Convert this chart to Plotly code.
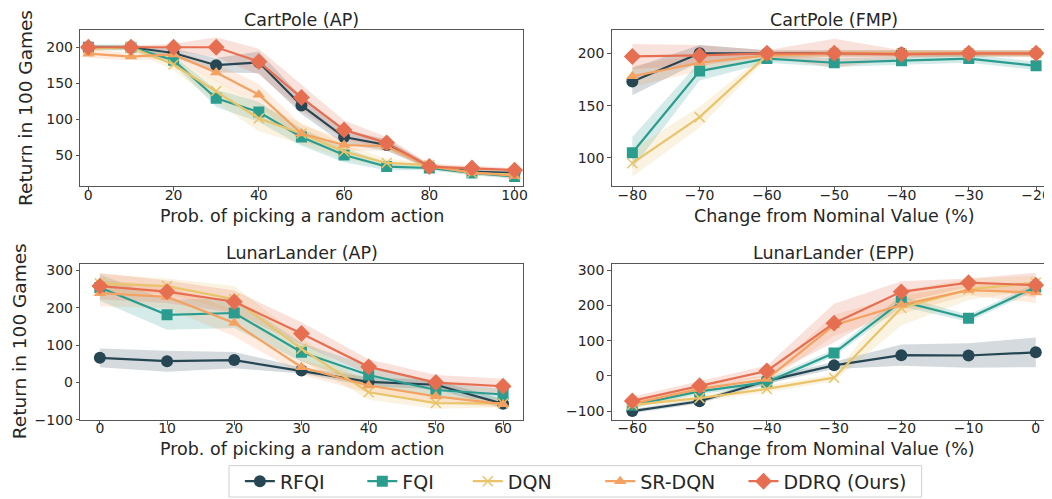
import plotly.graph_objects as go

W, H = 1052, 499

methods = ["RFQI", "FQI", "DQN", "SR-DQN", "DDRQ (Ours)"]
colors = ["#264653", "#2a9d8f", "#e9c46a", "#f4a261", "#e76f51"]
band_colors = ["rgba(38,70,83,0.2)", "rgba(42,157,143,0.2)", "rgba(233,196,106,0.2)",
               "rgba(244,162,97,0.2)", "rgba(231,111,81,0.2)"]
symbols = ["circle", "square", "x-thin", "triangle-up", "diamond"]
msizes = [12, 11, 10, 11, 13]

# CartPole (AP)
cp_ap_x = [0, 10, 20, 30, 40, 50, 60, 70, 80, 90, 100]
cp_ap_mean = [
    [200, 200, 192, 175, 179, 119, 75, 64, 34, 27, 25],
    [200, 200, 182, 129, 110, 75, 50, 34, 32, 25, 20],
    [198, 200, 176, 139, 101, 80, 55, 39, 36, 25, 23],
    [191, 187, 190, 165, 134, 80, 64, 62, 34, 26, 21],
    [200, 200, 200, 200, 180, 130, 85, 67, 34, 32, 29],
]
cp_ap_std = [
    [3, 3, 6, 10, 15, 12, 10, 8, 3, 3, 3],
    [4, 4, 6, 12, 14, 12, 10, 5, 3, 3, 3],
    [4, 4, 8, 15, 18, 15, 10, 6, 4, 3, 3],
    [6, 5, 6, 12, 15, 12, 8, 6, 3, 3, 3],
    [2, 2, 5, 14, 18, 18, 13, 8, 4, 3, 3],
]

# CartPole (FMP)
cp_fmp_x = [-80, -70, -60, -50, -40, -30, -20]
cp_fmp_mean = [
    [173, 200, 200, 200, 200, 200, 200],
    [105, 183, 195, 191, 193, 195, 188],
    [95, 139, 198, 200, 200, 200, 200],
    [178, 191, 198, 200, 200, 200, 200],
    [197, 198, 200, 200, 199, 200, 200],
]
cp_fmp_std = [
    [13, 8, 3, 3, 3, 3, 3],
    [15, 9, 4, 4, 4, 4, 4],
    [13, 10, 3, 3, 3, 3, 3],
    [10, 8, 4, 3, 3, 3, 3],
    [12, 10, 3, 14, 4, 3, 3],
]

# LunarLander (AP)
ll_ap_x = [0, 10, 20, 30, 40, 50, 60]
ll_ap_mean = [
    [66, 57, 60, 32, 2, -6, -57],
    [254, 181, 186, 81, 20, -20, -32],
    [265, 258, 223, 90, -26, -55, -56],
    [239, 229, 159, 41, -8, -37, -58],
    [258, 243, 216, 131, 42, 0, -10],
]
ll_ap_std = [
    [25, 28, 22, 8, 12, 12, 12],
    [35, 40, 40, 25, 25, 20, 15],
    [25, 20, 35, 30, 20, 15, 10],
    [35, 30, 35, 20, 20, 15, 10],
    [35, 30, 30, 30, 20, 20, 20],
]

# LunarLander (EPP)
ll_epp_x = [-60, -50, -40, -30, -20, -10, 0]
ll_epp_mean = [
    [-100, -72, -14, 30, 59, 58, 67],
    [-83, -44, -18, 65, 212, 164, 253],
    [-82, -63, -37, -5, 193, 246, 265],
    [-79, -37, -9, 144, 202, 244, 237],
    [-71, -28, 14, 150, 239, 265, 258],
]
ll_epp_std = [
    [6, 6, 8, 10, 30, 35, 42],
    [8, 8, 10, 10, 15, 10, 10],
    [8, 8, 10, 10, 50, 30, 20],
    [10, 10, 12, 30, 25, 15, 30],
    [12, 12, 15, 55, 30, 12, 35],
]

titles = ["CartPole (AP)", "CartPole (FMP)", "LunarLander (AP)", "LunarLander (EPP)"]
xlabels = ["Prob. of picking a random action", "Change from Nominal Value (%)",
           "Prob. of picking a random action", "Change from Nominal Value (%)"]
xtickvals = [[0, 20, 40, 60, 80, 100], [-80, -70, -60, -50, -40, -30, -20],
             [0, 10, 20, 30, 40, 50, 60], [-60, -50, -40, -30, -20, -10, 0]]
ytickvals = [[50, 100, 150, 200], [100, 150, 200], [-100, 0, 100, 200, 300], [-100, 0, 100, 200, 300]]
ylabel = "Return in 100 Games"

panels = [
    (cp_ap_x, cp_ap_mean, cp_ap_std),
    (cp_fmp_x, cp_fmp_mean, cp_fmp_std),
    (ll_ap_x, ll_ap_mean, ll_ap_std),
    (ll_epp_x, ll_epp_mean, ll_epp_std),
]

legend_ids = ["legend", "legend2", "legend3", "legend4", "legend5"]

fig = go.Figure()

for p, (xs, means, stds) in enumerate(panels):
    xa = "x" if p == 0 else f"x{p+1}"
    ya = "y" if p == 0 else f"y{p+1}"
    for i in range(len(methods)):
        up = [m + s for m, s in zip(means[i], stds[i])]
        lo = [m - s for m, s in zip(means[i], stds[i])]
        fig.add_trace(go.Scatter(x=xs, y=up, mode="lines", line=dict(width=0),
                                 hoverinfo="skip", showlegend=False, xaxis=xa, yaxis=ya))
        fig.add_trace(go.Scatter(x=xs, y=lo, mode="lines", line=dict(width=0),
                                 fill="tonexty", fillcolor=band_colors[i],
                                 hoverinfo="skip", showlegend=False, xaxis=xa, yaxis=ya))
    for i in range(len(methods)):
        mk = dict(symbol=symbols[i], size=msizes[i], color=colors[i])
        if symbols[i] == "x-thin":
            mk["line"] = dict(color=colors[i], width=1.5)
        fig.add_trace(go.Scatter(x=xs, y=means[i], mode="lines+markers", name=methods[i],
                                 line=dict(color=colors[i], width=2.2), marker=mk,
                                 showlegend=(p == 0), legend=legend_ids[i],
                                 xaxis=xa, yaxis=ya))


def px2x(px):
    return px / W


def px2y(py):
    return 1 - py / H


xdoms = [[px2x(72.7), px2x(517.3)], [px2x(606.7), 1.0]]
ydoms = [[px2y(180), px2y(20.7)], [px2y(418.3), px2y(259.3)]]

xranges = [[-1.87, 101.94], [-83.05, -17.19], [-2.9, 62.94], [-63.05, 2.86]]
yranges = [[6.4, 223.6], [72.8, 222.0], [-100, 316.8], [-125, 317.8]]

txtcol = "#262626"
tickfont = dict(family="DejaVu Sans", size=14, color=txtcol)
labfont = dict(family="DejaVu Sans", size=17.5, color=txtcol)
axcol = "#555555"

for p in range(4):
    col = p % 2
    row = p // 2
    sx = "" if p == 0 else str(p + 1)
    ax = dict(domain=xdoms[col], range=xranges[p], anchor="y" + sx,
              showgrid=False, zeroline=False, showline=True, linecolor=axcol, linewidth=1.2,
              mirror=True, ticks="outside", ticklen=3.5, tickcolor=axcol, tickfont=tickfont,
              tickvals=xtickvals[p], ticklabelstandoff=-8)
    ay = dict(domain=ydoms[row], range=yranges[p], anchor="x" + sx,
              showgrid=False, zeroline=False, showline=True, linecolor=axcol, linewidth=1.2,
              mirror=(col == 0), ticks="outside", ticklen=3.5, tickcolor=axcol, tickfont=tickfont,
              tickvals=ytickvals[p])
    fig.layout["xaxis" + sx] = ax
    fig.layout["yaxis" + sx] = ay

centers_x = [295, 830]
title_y = [10, 248]
xlabel_y = [210, 448]
for p in range(4):
    col = p % 2
    row = p // 2
    fig.add_annotation(text=titles[p], x=px2x(centers_x[col]), y=px2y(title_y[row]),
                       xref="paper", yref="paper", showarrow=False,
                       xanchor="center", yanchor="middle",
                       font=dict(family="DejaVu Sans", size=17.5, color=txtcol))
    fig.add_annotation(text=xlabels[p], x=px2x(centers_x[col]), y=px2y(xlabel_y[row]),
                       xref="paper", yref="paper", showarrow=False,
                       xanchor="center", yanchor="middle", font=labfont)

for xc, yc in [(18, 100), (11, 338)]:
    fig.add_annotation(text=ylabel, x=px2x(xc), y=px2y(yc), xref="paper", yref="paper",
                       showarrow=False, textangle=-90, xanchor="center", yanchor="middle",
                       font=dict(family="DejaVu Sans", size=18.5, color=txtcol))

# legend frame
fig.add_shape(type="rect", xref="paper", yref="paper",
              x0=px2x(222), x1=px2x(918), y0=px2y(497), y1=px2y(465),
              line=dict(color="#d0d0d0", width=1), fillcolor="white", layer="below")

text_starts = [281, 404, 510, 643, 787]
legfont = dict(family="DejaVu Sans", size=19, color=txtcol)
layout_legends = {}
for lid, ts in zip(legend_ids, text_starts):
    layout_legends[lid] = dict(orientation="h", x=px2x(ts - 48), xanchor="left",
                               y=px2y(481), yanchor="middle", font=legfont,
                               bgcolor="rgba(0,0,0,0)", borderwidth=0, itemwidth=30)

fig.update_layout(
    width=W, height=H,
    margin=dict(l=0, r=0, t=0, b=0),
    paper_bgcolor="white", plot_bgcolor="white",
    font=dict(family="DejaVu Sans", color=txtcol),
    showlegend=True,
    **layout_legends,
)

fig.write_html("out.html")
